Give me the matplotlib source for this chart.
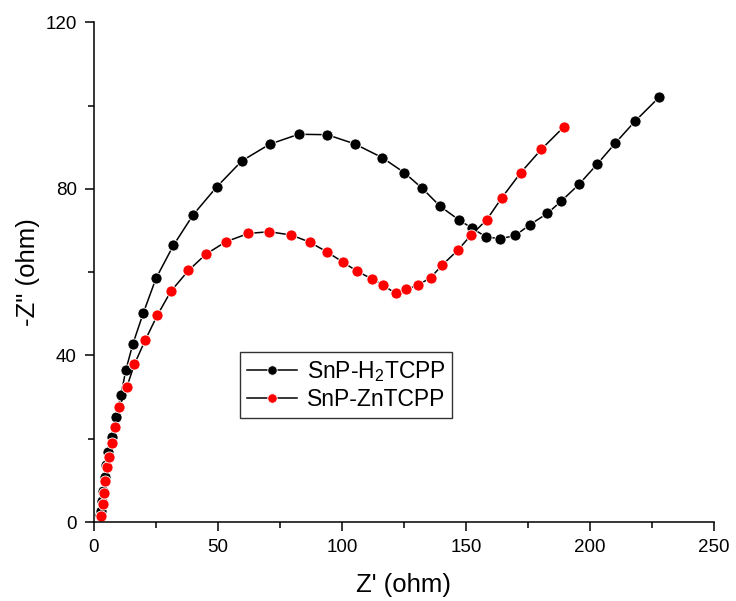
import matplotlib
matplotlib.use("Agg")
import matplotlib.pyplot as plt
from matplotlib.ticker import MultipleLocator

plt.rcParams['font.family'] = ['Liberation Sans', 'DejaVu Sans']
plt.rcParams['mathtext.fontset'] = 'custom'
plt.rcParams['mathtext.rm'] = 'Liberation Sans'
plt.rcParams['mathtext.it'] = 'Liberation Sans:italic'

# Nyquist data
h2_zre = [2.5, 2.7, 3.2, 3.8, 4.3, 4.8, 5.7, 7.1, 8.9, 10.8, 12.9, 15.7, 19.9,
          25.0, 32.0, 39.9, 49.4, 59.6, 70.8, 82.5, 94.0, 105.1, 116.2, 125.1,
          132.4, 139.6, 147.0, 152.3, 158.0, 163.7, 169.9, 175.8, 182.8, 188.5,
          195.6, 203.0, 210.1, 218.1, 227.9]
h2_zim = [1.7, 2.6, 5.0, 7.5, 10.7, 13.6, 16.8, 20.3, 25.2, 30.4, 36.6, 42.8, 50.2,
          58.5, 66.4, 73.7, 80.4, 86.7, 90.7, 93.1, 93.0, 90.8, 87.5, 83.9,
          80.1, 75.8, 72.6, 70.6, 68.5, 68.0, 68.8, 71.4, 74.1, 77.1,
          81.1, 86.0, 90.9, 96.2, 102.0]

zn_zre = [3.0, 3.5, 4.0, 4.6, 5.3, 6.1, 7.1, 8.5, 10.2, 13.3, 16.3, 20.6, 25.5,
          31.0, 38.1, 45.1, 53.2, 62.3, 70.7, 79.6, 87.0, 93.8, 100.4, 106.1,
          112.0, 116.5, 121.6, 126.0, 130.7, 135.8, 140.4, 146.6, 151.9, 158.4,
          164.5, 172.1, 180.4, 189.5]
zn_zim = [1.4, 4.3, 7.0, 9.9, 13.1, 15.6, 18.9, 22.7, 27.5, 32.5, 37.9, 43.6, 49.6,
          55.4, 60.4, 64.3, 67.3, 69.3, 69.7, 68.9, 67.2, 64.9, 62.4, 60.2,
          58.4, 56.9, 54.9, 55.9, 56.9, 58.7, 61.7, 65.2, 68.8, 72.6,
          77.9, 83.9, 89.5, 94.9]

fig = plt.figure(figsize=(7.36, 6.01), dpi=100)
ax = fig.add_axes([0.1277, 0.1314, 0.8424, 0.8316])

ax.plot(h2_zre, h2_zim, '-', color='black', lw=1.1, marker='o', ms=8,
        mfc='black', mec='white', mew=0.6, label='SnP-H$_2$TCPP')
ax.plot(zn_zre, zn_zim, '-', color='black', lw=1.1, marker='o', ms=8,
        mfc='red', mec='white', mew=0.6, label='SnP-ZnTCPP')

ax.set_xlim(0, 250)
ax.set_ylim(0, 120)
ax.xaxis.set_major_locator(MultipleLocator(50))
ax.xaxis.set_minor_locator(MultipleLocator(25))
ax.yaxis.set_major_locator(MultipleLocator(40))
ax.yaxis.set_minor_locator(MultipleLocator(20))

for side in ['top', 'right']:
    ax.spines[side].set_visible(False)
for side in ['left', 'bottom']:
    ax.spines[side].set_linewidth(1.1)

ax.tick_params(which='major', direction='out', length=6.5, width=1.1,
               labelsize=13.5, pad=6)
ax.tick_params(which='minor', direction='out', length=4, width=1.1)

ax.set_xlabel("Z' (ohm)", fontsize=18.5, labelpad=12)
ax.set_ylabel('-Z" (ohm)', fontsize=18.5, labelpad=4)

leg = ax.legend(loc='upper left', bbox_to_anchor=(0.2356, 0.34), borderaxespad=0,
                fontsize=16.5, frameon=True, fancybox=False, edgecolor='black',
                handlelength=2.2, handletextpad=0.4, borderpad=0.3,
                labelspacing=0.2, markerscale=0.85)
leg.get_frame().set_linewidth(1.0)

fig.savefig('out.png', dpi=100)
